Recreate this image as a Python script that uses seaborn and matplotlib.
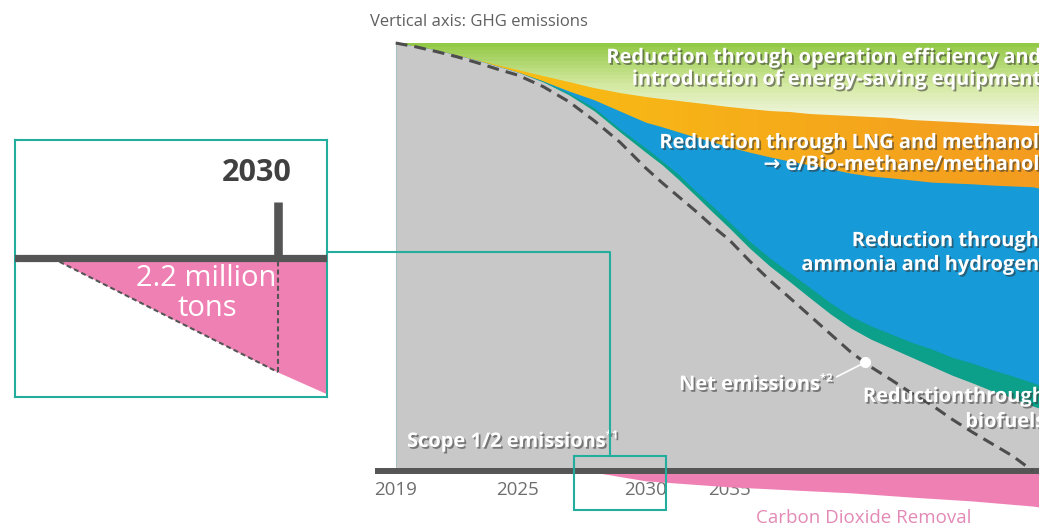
import numpy as np
import matplotlib
matplotlib.use("Agg")
import matplotlib.pyplot as plt
import matplotlib.patheffects as pe
from matplotlib.colors import LinearSegmentedColormap
from matplotlib.lines import Line2D
from matplotlib.patches import Rectangle
from matplotlib.transforms import ScaledTranslation
import seaborn as sns

sns.set_style("white")
plt.rcParams['font.family'] = ['Open Sans', 'DejaVu Sans']

# GHG emissions, % of the 2019 level
years = list(range(2019, 2051)) + [2050.3]
bau = [100] * len(years)
scope12 = [100.0, 99.3, 98.4, 97.2, 96.0, 94.6, 93.2, 90.9, 87.9, 84.1, 79.2, 74.5, 71.5,
           68.0, 64.3, 60.5, 56.8, 52.1, 47.9, 44.2, 40.4, 36.7, 33.4, 30.8, 28.7, 26.6,
           24.5, 22.4, 20.6, 18.7, 17.1, 15.2, 14.7]
biofuel_top = [100.0, 99.3, 98.4, 97.2, 96.0, 94.6, 93.2, 91.1, 88.3, 84.8, 79.9, 75.5, 72.4,
               69.2, 65.4, 61.9, 58.2, 53.7, 49.8, 46.3, 42.8, 39.3, 36.2, 33.9, 32.0, 30.1,
               28.5, 26.6, 25.2, 23.6, 22.2, 20.6, 20.1]
ammonia_top = [100.0, 99.3, 98.4, 97.2, 96.0, 94.6, 93.2, 91.1, 88.8, 86.7, 84.1, 81.5, 80.4,
               79.2, 78.0, 76.9, 75.7, 74.5, 73.4, 72.4, 71.5, 70.6, 69.6, 68.9, 68.5, 68.0,
               67.5, 67.3, 67.1, 66.8, 66.6, 66.4, 66.1]
lng_top = [100.0, 99.3, 98.4, 97.2, 96.0, 94.9, 93.7, 92.3, 90.9, 89.5, 88.3, 87.4, 86.9,
           86.4, 86.0, 85.5, 85.0, 84.6, 84.2, 83.9, 83.5, 83.2, 82.9, 82.7, 82.4, 82.0,
           81.8, 81.5, 81.3, 81.1, 80.8, 80.6, 80.6]

net_years = list(range(2019, 2051))
net = [100.0, 99.1, 98.0, 96.8, 95.4, 93.9, 92.5, 89.8, 86.3, 81.8, 76.8, 70.8, 67.3, 64.0,
       60.7, 57.2, 54.0, 49.1, 44.6, 40.4, 36.2, 32.0, 27.8, 24.3, 21.3, 18.2, 15.4, 12.1,
       9.1, 6.3, 3.5, 0.0]
net_dot_year = 2041.7

cdr_years = [2027.7, 2030, 2035, 2038, 2041, 2044, 2047, 2050, 2050.3]
cdr = np.array([0, 2.3, 3.7, 4.4, 5.1, 6.1, 7.0, 8.2, 8.4])

# zoomed view around 2030 (million tons)
inset_years = [2027.7, 2030, 2030.5]
inset_cdr = np.array([0, 2.2, 2.62])

tick_years = [2019, 2025, 2030, 2035, 2050]
tick_labels = ['2019', '2025', '2030', '2035', '2050']

# the time axis is not evenly spaced in the original
axis_years = [2000, 2019, 2025, 2030, 2035, 2050, 2070]
axis_pos = [9.4, 395.7, 517.7, 645.7, 729.3, 1033, 1438]

GRAY = '#c8c8c8'
TEAL = '#0c9f89'
BLUE = '#169ad8'
PINK = '#ef80b4'
DARK = '#555555'
BOX = '#22ad9c'

shadow = [pe.withSimplePatchShadow(offset=(1.3, -1.3), shadow_rgbFace='#333333', alpha=0.55)]

fig = plt.figure(figsize=(10.39, 5.28), dpi=100)
ax = fig.add_axes([378 / 1039, 0, 661 / 1039, 1])


def gradient_area(ax, x, top, colors, vals, horizontal=False, z=1):
    poly = ax.fill_between(x, 0, top, color='none', lw=0, zorder=z)
    cmap = LinearSegmentedColormap.from_list('g', colors)
    if horizontal:
        gx = np.linspace(min(x), max(x), 80)
        gy = [0, max(top)]
        c = np.clip((gx[:-1] - vals[0]) / (vals[1] - vals[0]), 0, 1)[None, :]
    else:
        gx = [min(x), max(x)]
        gy = np.linspace(0, max(top), 120)
        c = np.clip((gy[:-1] - vals[0]) / (vals[1] - vals[0]), 0, 1)[:, None]
    mesh = ax.pcolormesh(gx, gy, c, cmap=cmap, vmin=0, vmax=1, shading='flat', zorder=z)
    mesh.set_clip_path(poly.get_paths()[0], ax.transData)


# stacked reduction wedges, painted back to front
gradient_area(ax, years, bau, ['#f8faf1', '#d3e8a0', '#8dc63f'], (80, 100), z=1.0)
gradient_area(ax, years, lng_top, ['#f8bb14', '#f39b1f'], (2025, 2050), horizontal=True, z=1.1)
ax.fill_between(years, 0, ammonia_top, color=BLUE, lw=0, zorder=1.2)
ax.fill_between(years, 0, biofuel_top, color=TEAL, lw=0, zorder=1.3)
ax.fill_between(years, 0, scope12, color=GRAY, lw=0, zorder=1.4)
ax.fill_between(cdr_years, 0, -cdr, color=PINK, lw=0, zorder=1.5)

sns.lineplot(x=net_years, y=net, ax=ax, color='#4d4d4d', lw=2.2,
             linestyle=(0, (3.9, 2.3)), zorder=3)
dot_val = np.interp(net_dot_year, net_years, net)
ax.annotate('', xy=(net_dot_year, dot_val), xytext=(2040.3, 22.0),
            arrowprops=dict(arrowstyle='-', color='white', lw=1.2, shrinkA=0, shrinkB=2), zorder=4)
sns.scatterplot(x=[net_dot_year], y=[dot_val], ax=ax, color='white', s=55,
                edgecolor='white', zorder=5)

ax.set_xscale('function', functions=(lambda v: np.interp(v, axis_years, axis_pos),
                                     lambda p: np.interp(p, axis_pos, axis_years)))
ax.set_xlim(2018.13, 2050.3)
ax.set_ylim(-13.32, 110.05)
ax.set_xlabel('')
ax.set_ylabel('')
ax.set_yticks([])
ax.set_xticks(tick_years)
ax.set_xticklabels(tick_labels)
ax.tick_params(axis='x', direction='in', length=8, width=1.1, color=DARK,
               labelsize=13.5, labelcolor='#6e6e6e', pad=7)
for lab in ax.get_xticklabels():
    lab.set_transform(lab.get_transform() + ScaledTranslation(-5 / 100, 0, fig.dpi_scale_trans))
for s in ['top', 'left', 'right']:
    ax.spines[s].set_visible(False)
ax.spines['bottom'].set_position(('data', 0))
ax.spines['bottom'].set_linewidth(4.3)
ax.spines['bottom'].set_color(DARK)
ax.patch.set_alpha(0)

# wedge labels (right aligned at the picture edge)
yt = ax.get_yaxis_transform()
label_lines = [
    ('Reduction through operation efficiency and', 96.5, 1.003),
    ('introduction of energy-saving equipment', 91.4, 1.003),
    ('Reduction through LNG and methanol', 76.6, 1.0),
    ('→ e/Bio-methane/methanol', 71.5, 1.0),
    ('Reduction through', 53.7, 1.0),
    ('ammonia and hydrogen', 48.1, 1.0),
    ('Reductionthrough', 17.3, 1.009),
    ('biofuels', 11.4, 1.009),
]
for txt, yv, xf in label_lines:
    ax.text(xf, yv, txt, transform=yt, ha='right', va='center', color='white',
            fontsize=14.4, fontweight='bold', path_effects=shadow, zorder=6)

t_net = ax.text(2039.45, 20.1, 'Net emissions', ha='right', va='center', color='white',
                fontsize=14.4, fontweight='bold', path_effects=shadow, zorder=6)
ax.annotate('*2', xy=(1, 0.8), xycoords=t_net, xytext=(0.5, 0), textcoords='offset points',
            ha='left', va='center', color='white', fontsize=8, fontweight='bold',
            path_effects=shadow, zorder=6)
t_sc = ax.text(2019.56, 6.8, 'Scope 1/2 emissions', ha='left', va='center', color='white',
               fontsize=14.4, fontweight='bold', path_effects=shadow, zorder=6)
ax.annotate('*1', xy=(1, 0.8), xycoords=t_sc, xytext=(0.5, 0), textcoords='offset points',
            ha='left', va='center', color='white', fontsize=8, fontweight='bold',
            path_effects=shadow, zorder=6)
ax.text(2041.65, -11.0, 'Carbon Dioxide Removal', ha='center', va='center',
        color='#e389b5', fontsize=13.5)
fig.text(370 / 1039, 1 - 22 / 528, 'Vertical axis: GHG emissions', ha='left', va='center',
         color='#5f5f5f', fontsize=12)

# box marking the zoomed region
ax.add_patch(Rectangle((2027.2, -9.1), 4.0, 12.6, fill=False, ec=BOX, lw=1.5,
                       zorder=7, clip_on=False))

# zoomed inset
axin = fig.add_axes([15 / 1039, 131 / 528, 312 / 1039, 257 / 528])
axin.set_xlim(2027.32, 2030.5)
axin.set_ylim(-2.68, 2.28)
axin.fill_between(inset_years, 0, -inset_cdr, color=PINK, lw=0, zorder=1)
sns.lineplot(x=inset_years[:2], y=-inset_cdr[:2], ax=axin, color=DARK, lw=1.5,
             linestyle=(0, (2.4, 1.5)), zorder=2)
axin.vlines(2030, -inset_cdr[1], 0, color=DARK, lw=1.5, linestyles=(0, (2.4, 1.5)), zorder=2)
axin.axhline(0, color=DARK, lw=5.2, zorder=3)
axin.vlines(2030, 0, 1.08, color=DARK, lw=6.2, zorder=3)
axin.text(2029.78, 1.64, '2030', ha='center', va='center', color='#404040',
          fontsize=22, fontweight='bold')
axin.text(2029.27, -0.39, f'{inset_cdr[1]} million', ha='center', va='center',
          color='white', fontsize=21)
axin.text(2029.28, -0.97, 'tons', ha='center', va='center', color='white', fontsize=21)
axin.set_xticks([])
axin.set_yticks([])
axin.set_xlabel('')
axin.set_ylabel('')
for s in axin.spines.values():
    s.set_color(BOX)
    s.set_linewidth(1.5)

# connector from inset to the box
to_fig = fig.transFigure.inverted()
p1 = to_fig.transform(axin.transAxes.transform((1.0, 0.564)))
p3 = to_fig.transform(ax.transData.transform((2028.6, 3.5)))
fig.add_artist(Line2D([p1[0], p3[0], p3[0]], [p1[1], p1[1], p3[1]], color=BOX, lw=1.5,
                      transform=fig.transFigure))

fig.savefig('out.png', dpi=100)
